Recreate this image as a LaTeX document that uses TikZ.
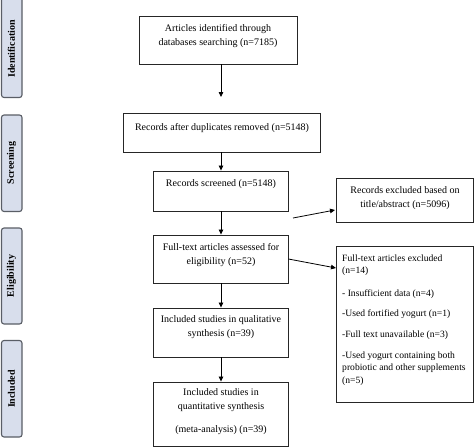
\documentclass[tikz,border=0pt]{standalone}
\usepackage{fontspec}
\setmainfont{Liberation Serif}
\usetikzlibrary{arrows.meta}
\definecolor{sidefill}{HTML}{D8DEEC}
\definecolor{sidedraw}{HTML}{5A5E66}
\tikzset{
  box/.style={draw=black!85, line width=0.9pt, inner sep=0pt, fill=white},
  txt/.style={align=center, inner sep=0pt, font=\fontsize{10}{14}\selectfont},
  ltxt/.style={align=left, anchor=west, inner sep=0pt, font=\fontsize{9.6}{12.5}\selectfont},
  side/.style={draw=sidedraw, line width=1.1pt, fill=sidefill, rounded corners=2.5pt},
  sidetxt/.style={rotate=90, inner sep=0pt, font=\fontsize{10}{12}\selectfont\bfseries},
  arr/.style={-{Triangle[length=5pt,width=4.5pt]}, line width=0.8pt, black}
}
\begin{document}
\begin{tikzpicture}[x=1pt,y=-1pt]
\useasboundingbox (0,0) rectangle (474,447);
% side labels
\draw[side] (1.5,-3) rectangle (22,97.5);
\node[sidetxt] (sid) at (11.5,49) {Identification};
\draw[side] (1.5,115) rectangle (22,211.5);
\node[sidetxt] (sscr) at (11.5,163) {Screening};
\draw[side] (1.5,228) rectangle (22,324);
\node[sidetxt] (selig) at (11.5,276) {Eligibility};
\draw[side] (1.5,340.5) rectangle (22,437);
\node[sidetxt] (sinc) at (11.5,389) {Included};
% main boxes
\node[box, minimum width=158, minimum height=48] (b1) at (218,40) {};
\node[txt] (t1) at (218,36) {Articles identified through\\databases searching (n=7185)};
\node[box, minimum width=197, minimum height=39] (b2) at (221.5,132.5) {};
\node[txt] (t2) at (222,128.5) {Records after duplicates removed (n=5148)};
\node[box, minimum width=135, minimum height=40] (b3) at (220.5,191) {};
\node[txt] (t3) at (221,184.5) {Records screened (n=5148)};
\node[box, minimum width=137, minimum height=44] (rex) at (404.5,200) {};
\node[txt] (trex) at (405,198.5) {Records excluded based on\\title/abstract (n=5096)};
\node[box, minimum width=135, minimum height=48] (b4) at (220.5,259) {};
\node[txt] (t4) at (221,255.5) {Full-text articles assessed for\\eligibility (n=52)};
\node[box, minimum width=137, minimum height=156] (exc) at (404.5,324) {};
\node[ltxt] (e1) at (342,265) {Full-text articles excluded\\(n=14)};
\node[ltxt] (e2) at (342,294.5) {- Insufficient data (n=4)};
\node[ltxt] (e3) at (342,314.5) {-Used fortified yogurt (n=1)};
\node[ltxt] (e4) at (342,335) {-Full text unavailable (n=3)};
\node[ltxt] (e5) at (342,368.5) {-Used yogurt containing both\\probiotic and other supplements\\(n=5)};
\node[box, minimum width=135, minimum height=49] (b5) at (220.5,332.5) {};
\node[txt] (t5) at (221,327.5) {Included studies in qualitative\\synthesis (n=39)};
\node[box, minimum width=135, minimum height=64] (b6) at (220.5,414) {};
\node[txt] (t6) at (221,400) {Included studies in\\quantitative synthesis};
\node[txt] (t6b) at (221,430.5) {(meta-analysis) (n=39)};
% connectors
\coordinate (a1) at (221,97);
\coordinate (s3) at (293,218);
\coordinate (r3) at (335,210);
\coordinate (r4) at (336,268);
\draw[arr] (b1.south -| a1) -- (a1);
\draw[arr] (b2.south -| a1) -- (b3.north -| a1);
\draw[arr] (s3) -- (r3);
\draw[arr] (b3.south -| a1) -- (b4.north -| a1);
\draw[arr] (b4.east) -- (r4);
\draw[arr] (b4.south -| a1) -- (b5.north -| a1);
\draw[arr] (b5.south -| a1) -- (b6.north -| a1);
\end{tikzpicture}
\end{document}
